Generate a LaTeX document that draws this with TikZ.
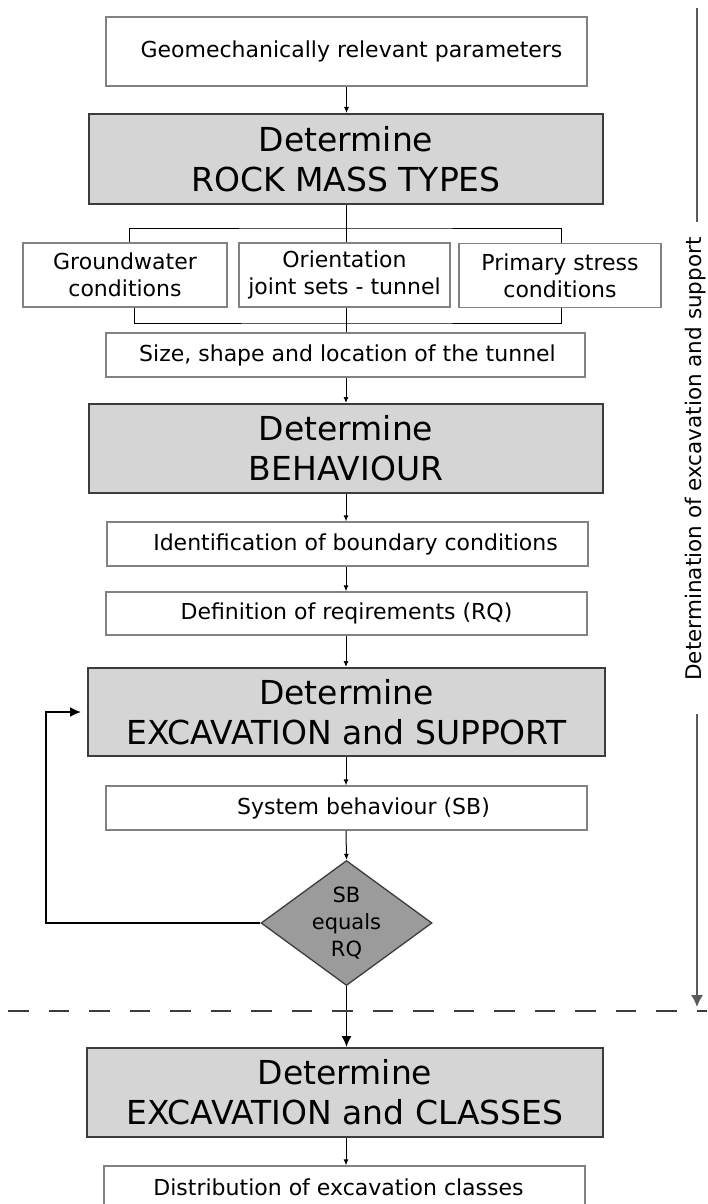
\documentclass[tikz,border=0pt]{standalone}
\usepackage{fontspec}
\setmainfont{DejaVu Sans}
\usetikzlibrary{arrows.meta,shapes.geometric}
\definecolor{boxgray}{RGB}{130,130,130}
\definecolor{lightg}{RGB}{213,213,213}
\definecolor{darkb}{RGB}{60,60,60}
\definecolor{diag}{RGB}{155,155,155}
\definecolor{sidegray}{RGB}{90,90,90}
\tikzset{
  wbox/.style={draw=boxgray, line width=1.3pt, fill=white, minimum height=44pt,
    inner sep=0pt, font=\fontsize{22}{27}\selectfont, align=center, text=black},
  gbox/.style={draw=darkb, line width=2pt, fill=lightg, inner sep=0pt,
    font=\fontsize{33}{40}\selectfont, align=center, text=black},
  conn/.style={draw=black, line width=1pt},
  arr/.style={conn, -{Latex[length=6pt,width=5pt]}},
  bigarr/.style={draw=black, line width=1.5pt, -{Latex[length=11pt,width=10pt]}},
  sideline/.style={draw=sidegray, line width=1.5pt},
}
\begin{document}
\begin{tikzpicture}[x=1pt,y=-1pt]
\useasboundingbox (0,0) rectangle (707,1204);
\clip (0,0) rectangle (707,1204);
\fill[white] (0,0) rectangle (707,1204);

% boxes
\node[wbox, minimum width=481pt, minimum height=69pt] (top) at (346.5,51.5) {\hspace*{10pt}Geomechanically relevant parameters};
\node[gbox, minimum width=514pt, minimum height=90pt] (rock) at (346,159) {Determine\\ROCK MASS TYPES};
\node[wbox, minimum width=204pt, minimum height=64pt] (gw) at (125,275) {Groundwater\\conditions};
\node[wbox, minimum width=211pt, minimum height=64pt] (ori) at (344.5,275) {Orientation\\joint sets - tunnel};
\node[wbox, minimum width=202pt, minimum height=64pt] (ps) at (560,275.5) {Primary stress\\conditions};
\node[wbox, minimum width=479pt] (size) at (345.5,355) {\hspace*{4pt}Size, shape and location of the tunnel};
\node[gbox, minimum width=514pt, minimum height=89pt] (beh) at (346,448.5) {Determine\\BEHAVIOUR};
\node[wbox, minimum width=481pt] (ident) at (347.5,544) {\hspace*{16pt}Identification of boundary conditions};
\node[wbox, minimum width=481pt, minimum height=43pt] (defn) at (346.5,613.5) {Definition of reqirements (RQ)};
\node[gbox, minimum width=517pt, minimum height=88pt] (exsup) at (346.5,712) {Determine\\EXCAVATION and SUPPORT};
\node[wbox, minimum width=481pt] (sysb) at (346.5,808) {\hspace*{34pt}System behaviour (SB)};
\node[diamond, draw=darkb, line width=1.3pt, fill=diag, minimum width=171pt, minimum height=125pt, inner sep=0pt] (dia) at (346.5,923) {};
\node[font=\fontsize{21}{27}\selectfont, align=center, inner sep=0pt] (diat) at (dia.center) {SB\\equals\\RQ};
\node[gbox, minimum width=516pt, minimum height=89pt] (excl) at (345,1092.5) {Determine\\EXCAVATION and CLASSES};
\node[wbox, minimum width=481pt, minimum height=42pt] (distr) at (344.5,1187) {\hspace*{-12pt}Distribution of excavation classes};

% connectors
\draw[arr] (top.south) -- (top.south |- rock.north);
\coordinate (bt) at (346,228);
\coordinate (bb) at (346,323);
\draw[conn] (rock.south) -- (rock.south |- ori.north);
\draw[conn] ([xshift=4pt]gw.north) |- (bt) -| ([xshift=1pt]ps.north);
\draw[conn] ([xshift=9pt]gw.south) |- (bb) -| ([xshift=1pt]ps.south);
\draw[conn] (ori.south -| bb) -- (bb |- size.north);
\draw[arr] (size.south -| bb) -- (bb |- beh.north);
\draw[arr] (beh.south) -- (beh.south |- ident.north);
\draw[arr] (ident.south -| beh.south) -- (beh.south |- defn.north);
\draw[arr] (defn.south -| beh.south) -- (beh.south |- exsup.north);
\draw[arr] (exsup.south -| beh.south) -- (beh.south |- sysb.north);
\draw[arr] (sysb.south -| beh.south) -- (dia.north);
\draw[bigarr] (dia.south) -- (dia.south |- excl.north);
\draw[arr] (excl.south -| beh.south) -- (beh.south |- distr.north);
\coordinate (lp) at (46,923);
\draw[bigarr, line width=1.6pt, shorten >=6pt] (dia.west) -- (lp) |- (exsup.west);

% side annotation
\node[rotate=90, anchor=base, font=\fontsize{21.5}{27}\selectfont, inner sep=0pt] (side) at (701,459) {Determination of excavation and support};
\coordinate (s1) at (697,8);
\coordinate (s2) at (697,222);
\coordinate (s3) at (697,714);
\coordinate (s4) at (697,1007);
\draw[sideline] (s1) -- (s2);
\draw[sideline, -{Latex[length=12pt,width=12pt]}] (s3) -- (s4);

% dashed separator
\coordinate (d1) at (8,1011);
\coordinate (d2) at (707,1011);
\draw[draw=darkb, line width=2.2pt, dash pattern=on 20.5pt off 20pt] (d1) -- (d2);
\end{tikzpicture}
\end{document}
